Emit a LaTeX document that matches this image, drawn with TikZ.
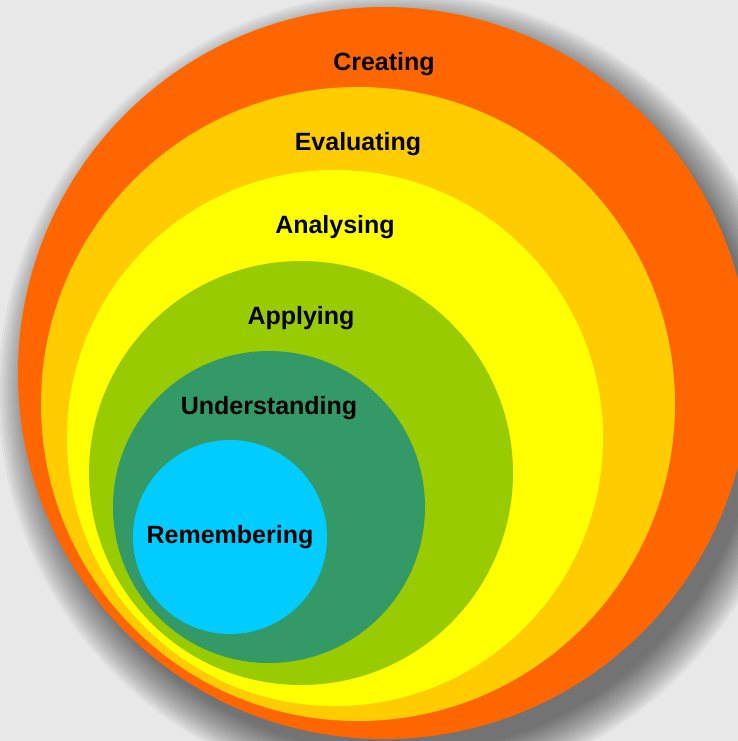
\documentclass[tikz,border=0pt]{standalone}
\usepackage{fontspec}
\setmainfont{Liberation Sans}
\usetikzlibrary{positioning}

\definecolor{bgC}{HTML}{E8E8E8}
\definecolor{createC}{HTML}{FF6600}
\definecolor{evalC}{HTML}{FFCC00}
\definecolor{analyC}{HTML}{FFFF00}
\definecolor{applyC}{HTML}{99CC00}
\definecolor{underC}{HTML}{339966}
\definecolor{rememC}{HTML}{00CCFF}

\tikzset{
  layer/.style={circle, draw=none, inner sep=0pt},
  tag/.style={anchor=base, text=black, font=\fontsize{25}{30}\selectfont\bfseries}
}

\begin{document}
\begin{tikzpicture}[x=1pt, y=-1pt]
    \clip (0,0) rectangle (738,741);
    \fill[bgC] (0,0) rectangle (738,741);
    % soft shadow behind the outer circle
    \foreach \i in {0,...,19}
    \fill[black, opacity=0.033] (398,392) circle[radius=400-2*\i];
    % nested levels
    \foreach \name/\cx/\cy/\r/\col in {creating/384/373/366/createC,
        evaluating/358/404/317/evalC, analysing/335/438/268/analyC,
        applying/301/473/212/applyC, understanding/269/507/156/underC,
        remembering/230/537/97/rememC}
    \node[layer, fill=\col, minimum size={2*\r pt}] (\name) at (\cx,\cy) {};
    % labels
    \foreach \name/\txt in {creating/Creating, evaluating/Evaluating,
        analysing/Analysing, applying/Applying, understanding/Understanding}
    \node[tag] (\name-label) at ([yshift=-64pt]\name.north) {\txt};
    \node[tag] (remembering-label) at ([yshift=-6pt]remembering.center) {Remembering};
\end{tikzpicture}
\end{document}
